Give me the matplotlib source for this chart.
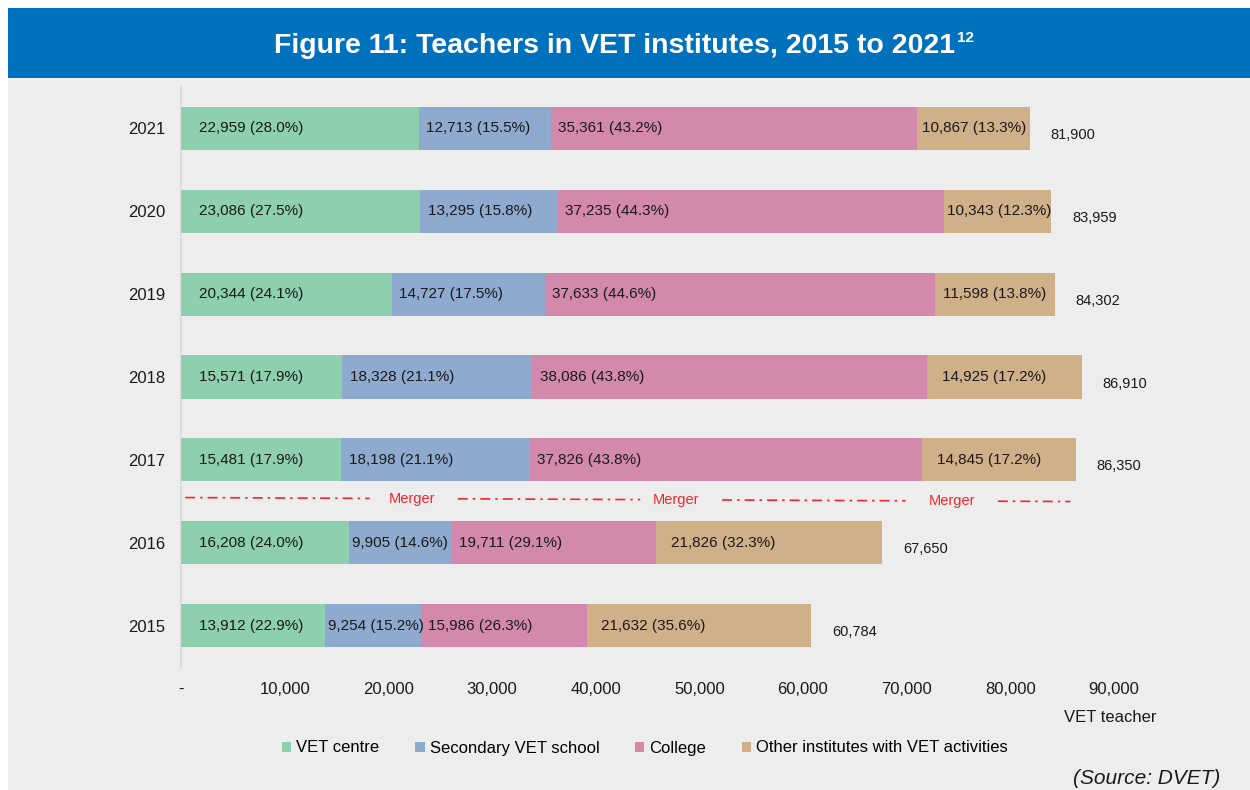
import matplotlib
matplotlib.use("Agg")
import matplotlib.pyplot as plt
from matplotlib.patches import Rectangle, Patch
from matplotlib.ticker import FuncFormatter

plt.rcParams['font.family'] = ['Liberation Sans', 'DejaVu Sans']

years = ['2015', '2016', '2017', '2018', '2019', '2020', '2021']
vet_centre = [13912, 16208, 15481, 15571, 20344, 23086, 22959]
secondary = [9254, 9905, 18198, 18328, 14727, 13295, 12713]
college = [15986, 19711, 37826, 38086, 37633, 37235, 35361]
other = [21632, 21826, 14845, 14925, 11598, 10343, 10867]
series_names = ['VET centre', 'Secondary VET school', 'College', 'Other institutes with VET activities']
colors = ['#8ECFAD', '#8FAACF', '#D389AC', '#CFB088']
merger_x = [22300, 47800, 74400]

W, H = 1250, 790
fig = plt.figure(figsize=(12.5, 7.9), dpi=100)
fig.patch.set_facecolor('white')
# background panels
fig.add_artist(Rectangle((8 / W, 0), 1 - 8 / W, 1 - 78 / H, transform=fig.transFigure,
                         facecolor='#EDEDED', edgecolor='none', zorder=0))
fig.add_artist(Rectangle((8 / W, 1 - 78 / H), 1 - 8 / W, 70 / H, transform=fig.transFigure,
                         facecolor='#0071BC', edgecolor='none', zorder=0))

t = fig.text(615 / W, 1 - 46 / H, 'Figure 11: Teachers in VET institutes, 2015 to 2021',
             ha='center', va='center', color='white', fontsize=20.5, fontweight='bold')
fig.canvas.draw()
bb = t.get_window_extent()
fig.text((bb.x1 + 1) / W, 1 - 38 / H, '12', ha='left', va='center', color='white',
         fontsize=11, fontweight='bold')

ax = fig.add_axes([181 / W, 123 / H, (1145 - 181) / W, 580 / H])
ax.set_facecolor('none')
ax.set_xlim(0, 93000)
ax.set_ylim(-0.5, 6.5)
for s in ['top', 'right', 'bottom']:
    ax.spines[s].set_visible(False)
ax.spines['left'].set_color('#D9D9D9')
ax.spines['left'].set_linewidth(1.2)

ypos = list(range(len(years)))
data = [vet_centre, secondary, college, other]
totals = [sum(v) for v in zip(*data)]
base_pads = [1700, 700, 700, 1400]
lefts = [0] * len(years)
for k, (vals, col) in enumerate(zip(data, colors)):
    ax.barh(ypos, vals, left=lefts, height=0.52, color=col, zorder=3)
    for i, v in enumerate(vals):
        lab = f"{v:,} ({v / totals[i] * 100:.1f}%)"
        tw = 10000 if v >= 10000 else 9400
        pad = min(base_pads[k], max((v - tw) / 2, 250))
        ax.text(lefts[i] + pad, ypos[i], lab, ha='left', va='center',
                fontsize=11, color='#1A1A1A', zorder=4)
    lefts = [l + v for l, v in zip(lefts, vals)]

for i, tot in enumerate(totals):
    ax.text(tot + 2000, ypos[i] - 0.08, f"{tot:,}", ha='left', va='center',
            fontsize=10.5, color='#1A1A1A')

# merger line between 2016 and 2017
y0, y1 = 1.545, 1.497
def ym(x):
    return y0 + (y1 - y0) * (x - 400) / (85800 - 400)
segs = [(400, 18200), (26700, 44300), (52200, 69900), (78800, 85800)]
for a, b in segs:
    ax.plot([a, b], [ym(a), ym(b)], color='#F0282D', lw=1.2, linestyle=(0, (6, 3, 1.5, 3)), zorder=2)
for mx in merger_x:
    ax.text(mx, ym(mx), 'Merger', ha='center', va='center', fontsize=10.5, color='#F0282D')

ax.set_yticks(ypos)
ax.set_yticklabels(years)
ax.set_xticks(range(0, 100000, 10000))
ax.xaxis.set_major_formatter(FuncFormatter(lambda v, p: '-' if v == 0 else f"{v:,.0f}"))
ax.tick_params(axis='both', length=0, labelsize=12, colors='#1A1A1A')
ax.tick_params(axis='x', pad=11)
ax.tick_params(axis='y', pad=11)

fig.text(1110 / W, 1 - 717 / H, 'VET teacher', ha='center', va='center', fontsize=12, color='#1A1A1A')

handles = [Patch(facecolor=c, edgecolor='none') for c in colors]
fig.legend(handles, series_names, loc='center', bbox_to_anchor=(645 / W, 1 - 748 / H), ncol=4,
           frameon=False, fontsize=12, handlelength=0.55, handleheight=0.55,
           handletextpad=0.3, columnspacing=2.15)

fig.text(1220 / W, 1 - 779 / H, '(Source: DVET)', ha='right', va='center', fontsize=15,
         style='italic', color='#1A1A1A')

fig.savefig('out.png', dpi=100)
